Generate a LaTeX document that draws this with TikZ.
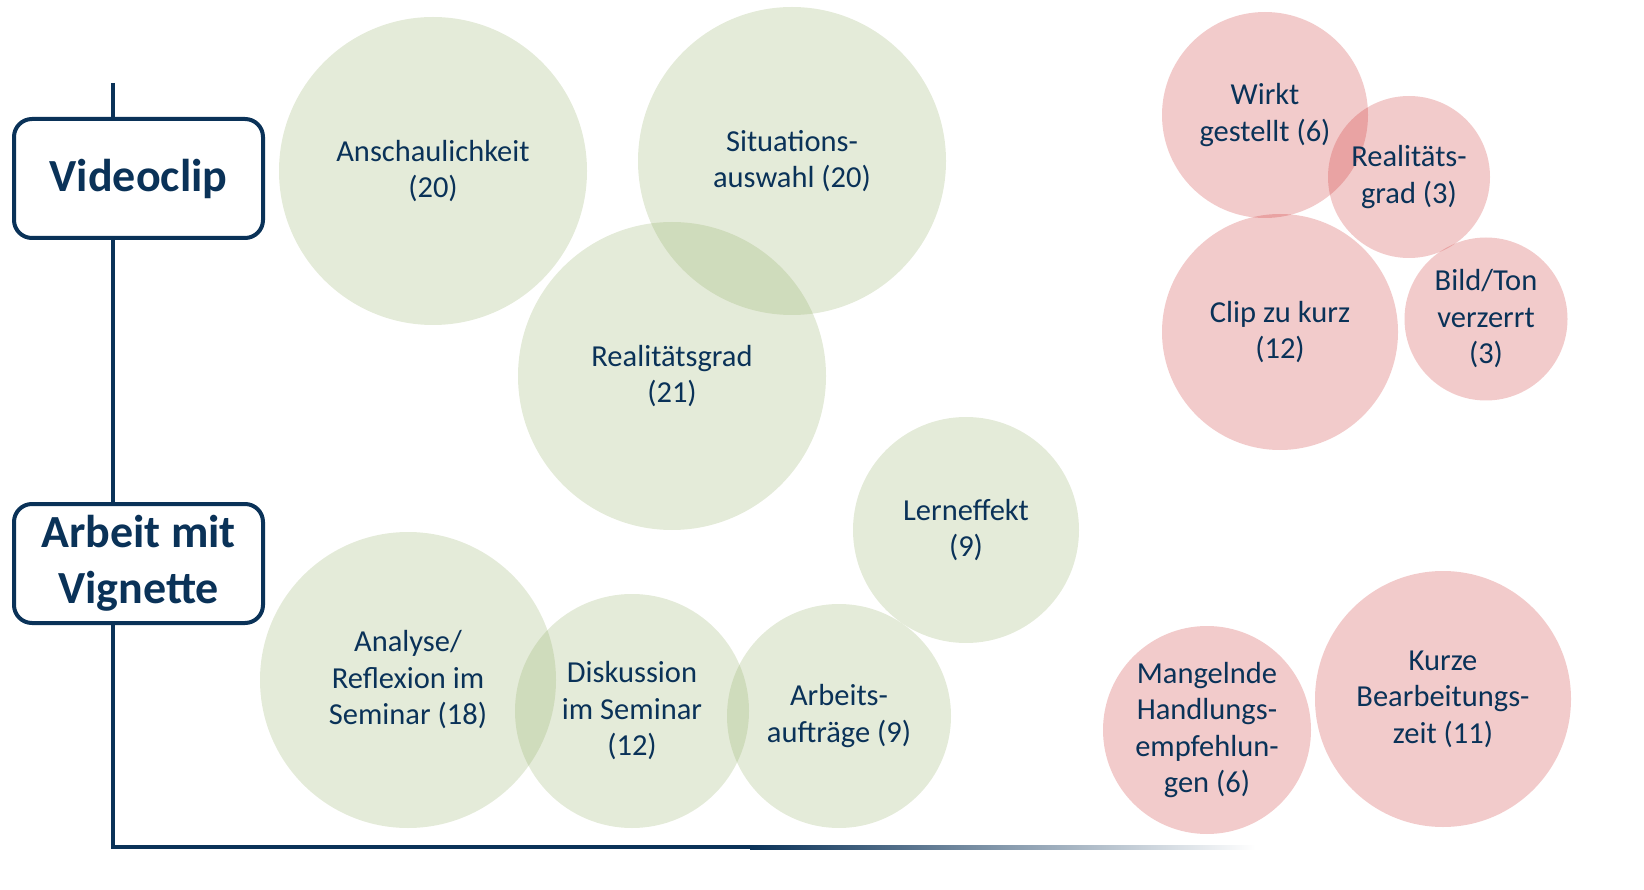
\documentclass[tikz,border=0pt]{standalone}
\usepackage{fontspec}
\setmainfont{Carlito}
\definecolor{navy}{RGB}{10,50,88}
\definecolor{greenc}{RGB}{138,168,90}
\definecolor{redc}{RGB}{200,30,30}
\begin{document}
\begin{tikzpicture}[x=1pt,y=-1pt,
  bub/.style={circle, inner sep=0pt, align=center, text=navy,
    font=\fontsize{30.5}{36.5}\selectfont, fill opacity=0.23, text opacity=1},
  gbub/.style={bub, fill=greenc},
  rbub/.style={bub, fill=redc},
  catbox/.style={draw=navy, line width=4pt, rounded corners=18pt, fill=white,
    minimum width=249pt, minimum height=119pt, inner sep=0pt,
    font=\fontsize{46}{56}\selectfont\bfseries, text=navy, align=center},
  axisline/.style={draw=navy, line width=4pt}]
\useasboundingbox (0,0) rectangle (1644,890);
% axes
\coordinate (top) at (113,83);
\coordinate (corner) at (113,847);
\coordinate (solidend) at (752,847);
\draw[axisline] (top) -- (corner) -- (solidend);
\shade[left color=navy, right color=white] (750,845) rectangle (1255,849);
% category boxes
\node[catbox] (video) at (138.5,178.5) {Videoclip};
\node[catbox] (vign) at (138.5,563.5) {Arbeit mit\\Vignette};
% green bubbles
\node[gbub, minimum size=308pt] (ansch) at (433,171) {Anschaulichkeit\\(20)};
\node[gbub, minimum size=308pt] (sit) at (792,161) {Situations-\\auswahl (20)};
\node[gbub, minimum size=308pt] (real) at (672,376) {Realitätsgrad\\(21)};
\node[gbub, minimum size=226pt] (lern) at (966,530) {Lerneffekt\\(9)};
\node[gbub, minimum size=296pt] (anal) at (408,680) {Analyse/\\Reflexion im\\Seminar (18)};
\node[gbub, minimum size=234pt] (disk) at (632,711) {Diskussion\\im Seminar\\(12)};
\node[gbub, minimum size=224pt] (arb) at (839,716) {Arbeits-\\aufträge (9)};
% red bubbles
\node[rbub, minimum size=206pt] (wirkt) at (1265,115) {Wirkt\\gestellt (6)};
\node[rbub, minimum size=162pt] (real3) at (1409,177) {Realitäts-\\grad (3)};
\node[rbub, minimum size=236pt] (clip) at (1280,332) {Clip zu kurz\\(12)};
\node[rbub, minimum size=163pt] (bild) at (1486,319) {Bild/Ton\\verzerrt\\(3)};
\node[rbub, minimum size=208pt] (mang) at (1207,730) {Mangelnde\\Handlungs-\\empfehlun-\\gen (6)};
\node[rbub, minimum size=256pt] (kurz) at (1443,699) {Kurze\\Bearbeitungs-\\zeit (11)};
\end{tikzpicture}
\end{document}
